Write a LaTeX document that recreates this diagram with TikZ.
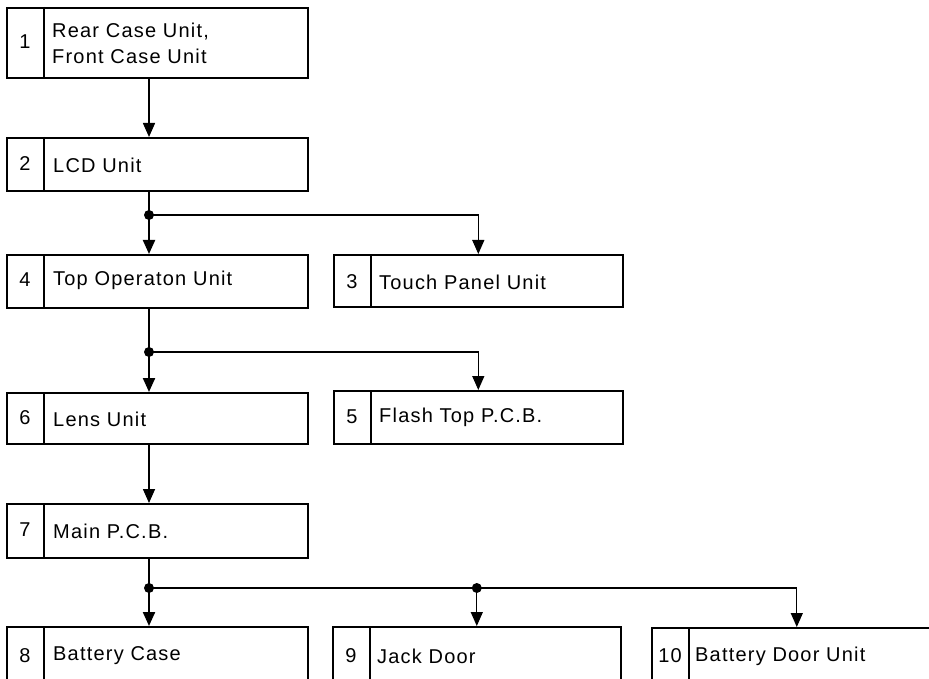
\documentclass[tikz,border=0pt]{standalone}
\usepackage{fontspec}
\setmainfont{Liberation Sans}[LetterSpace=6]
\usetikzlibrary{arrows.meta,calc}
\begin{document}
\begin{tikzpicture}[x=1pt,y=-1pt,
  box/.style={draw, line width=1.6pt, anchor=north west, inner sep=0pt, minimum height=#1},
  box/.default=53,
  divline/.style={line width=1.3pt},
  num/.style={font=\fontsize{20}{24}\selectfont, inner sep=0pt},
  lbl/.style={font=\fontsize{20}{26}\selectfont, inner sep=0pt, anchor=west, align=left},
  trunk/.style={line width=2.2pt, -{Triangle[length=14pt,width=12pt]}},
  thinarrow/.style={line width=1.6pt, -{Triangle[length=14pt,width=12pt]}},
  branch/.style={line width=1.3pt, -{Triangle[length=14pt,width=12pt]}},
  dot/.style={fill=black}
]
\useasboundingbox (0,0) rectangle (929,679);
\clip (0,0) rectangle (929,679);
\fill[white] (0,0) rectangle (929,679);

% boxes
\node[box=70, minimum width=301] (b1) at (6,7) {};
\node[box, minimum width=301] (b2) at (6,137) {};
\node[box, minimum width=301] (b4) at (6,254) {};
\node[box=52, minimum width=289] (b3) at (333,254) {};
\node[box=51, minimum width=301] (b6) at (6,392) {};
\node[box, minimum width=289] (b5) at (333,390) {};
\node[box=54, minimum width=301] (b7) at (6,503) {};
\node[box=80, minimum width=301] (b8) at (6,626) {};
\node[box=80, minimum width=288] (b9) at (332,626) {};
\node[box=80, minimum width=290] (b10) at (651,627) {};

% dividers
\foreach \b in {b1,b2,b4,b6,b7,b8,b3,b5,b9,b10}{
  \draw[divline] ($(\b.north west)+(38,0)$) -- ($(\b.south west)+(38,0)$);
}

% numbers
\node[num] (n1) at (25,42) {1};
\node[num] (n2) at (25,164) {2};
\node[num] (n4) at (25,280) {4};
\node[num] (n3) at (352,282) {3};
\node[num] (n6) at (25,418) {6};
\node[num] (n5) at (352,417) {5};
\node[num] (n7) at (25,530) {7};
\node[num] (n8) at (25,656) {8};
\node[num] (n9) at (351,656) {9};
\node[num] (n10) at (670,656) {10};

% labels
\node[lbl] (t1) at (52,43) {Rear Case Unit,\\Front Case Unit};
\node[lbl] (t2) at (53,165) {LCD Unit};
\node[lbl] (t4) at (53,280) {Top Operaton Unit};
\node[lbl] (t3) at (379,282) {Touch Panel Unit};
\node[lbl] (t6) at (53,419) {Lens Unit};
\node[lbl] (t5) at (379,417) {Flash Top P.C.B.};
\node[lbl] (t7) at (53,531) {Main P.C.B.};
\node[lbl] (t8) at (53,656) {Battery Case};
\node[lbl] (t9) at (377,656) {Jack Door};
\node[lbl] (t10) at (695,656) {Battery Door Unit};

% connectors
\coordinate (tx) at (149,0);
\coordinate (d1) at (149,215);
\coordinate (d2) at (149,352);
\coordinate (d3) at (149,588);
\coordinate (d4) at (b9.north |- d3);

\draw[thinarrow] (tx |- b1.south) -- (tx |- b2.north);
\draw[trunk] (tx |- b2.south) -- (tx |- b4.north);
\draw[branch] (d1) -| (b3.north);
\fill[dot] (d1) circle[radius=5pt];

\draw[trunk] (tx |- b4.south) -- (tx |- b6.north);
\draw[branch] (d2) -| (b5.north);
\fill[dot] (d2) circle[radius=5pt];

\draw[thinarrow] (tx |- b6.south) -- (tx |- b7.north);

\draw[trunk] (tx |- b7.south) -- (tx |- b8.north);
\draw[branch] (d3) -| (b10.north);
\draw[branch] (d4) -- (b9.north);
\fill[dot] (d3) circle[radius=5pt];
\fill[dot] (d4) circle[radius=5pt];
\end{tikzpicture}
\end{document}
